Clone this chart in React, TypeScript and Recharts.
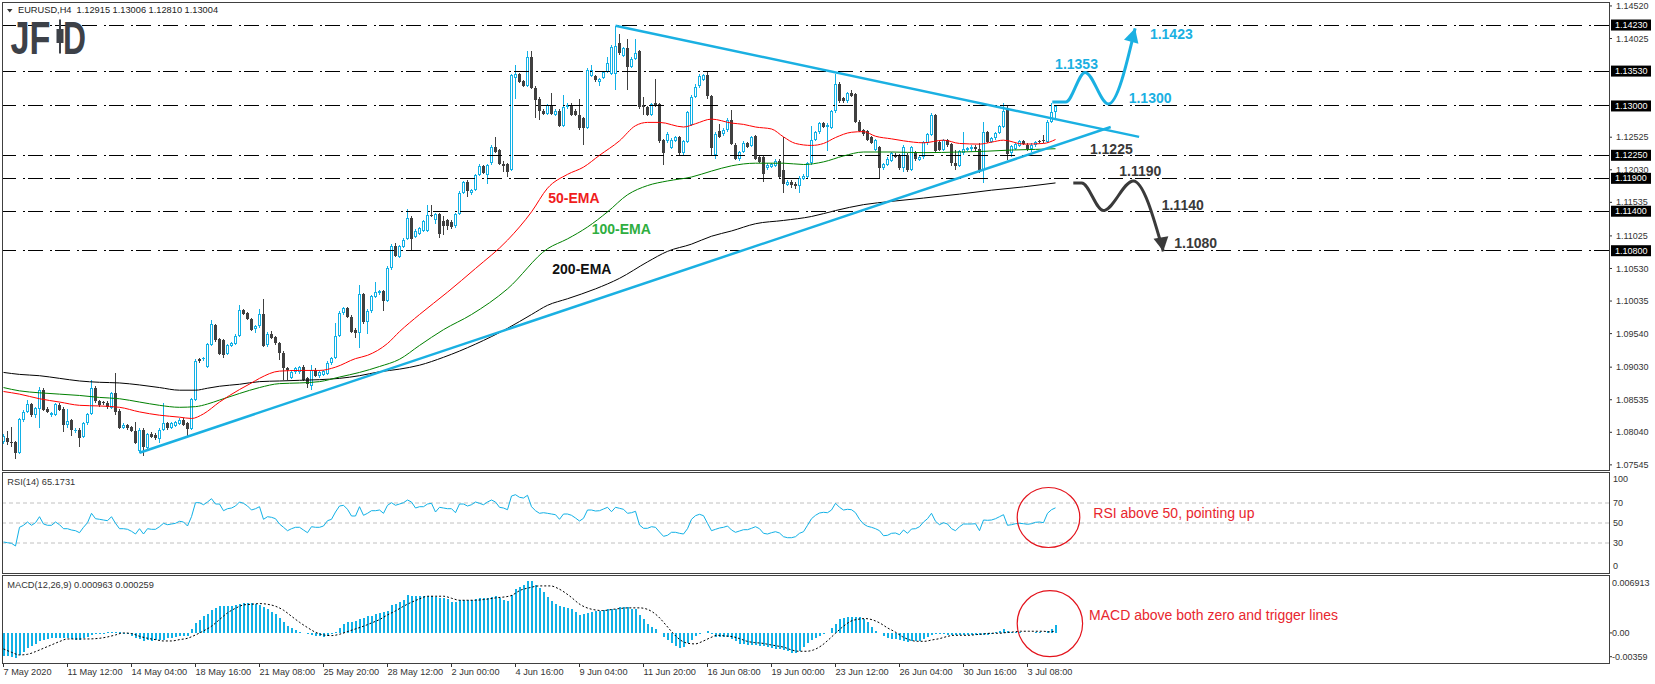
import React from 'react';
import { ComposedChart, Bar, Line, XAxis, YAxis, ReferenceLine, ReferenceDot } from 'recharts';

const FONT = '"Liberation Sans", Arial, Helvetica, sans-serif';
const BULL = '#12b1e6';
const BEAR = '#404040';
const CYAN = '#1ab0e2';
const DARK = '#3a3a3a';
const X_DOMAIN: [number, number] = [-0.375, 401.375];
const CHART_W = 1655;
const AXIS_W = 46;
const PRICE_MIN = 1.07467;
const PRICE_MAX = 1.1458;
const MACD_MIN = -0.00359;
const MACD_MAX = 0.006913;

// EURUSD H4 candles: [open, high, low, close]
const ohlc: [number, number, number, number][] = [
  [1.0789,1.0802,1.0786,1.0798],[1.0796,1.0806,1.0784,1.0789],[1.0790,1.0812,1.0782,1.0788],[1.0789,1.0791,1.0763,1.0773],
  [1.0773,1.0826,1.0771,1.0824],[1.0822,1.0838,1.0820,1.0835],[1.0835,1.0853,1.0833,1.0847],[1.0847,1.0849,1.0828,1.0830],
  [1.0831,1.0843,1.0826,1.0841],[1.0840,1.0873,1.0811,1.0869],[1.0869,1.0871,1.0836,1.0838],[1.0840,1.0842,1.0833,1.0835],
  [1.0830,1.0835,1.0828,1.0833],[1.0831,1.0849,1.0829,1.0847],[1.0845,1.0848,1.0836,1.0838],[1.0840,1.0842,1.0804,1.0815],
  [1.0815,1.0840,1.0810,1.0821],[1.0822,1.0824,1.0799,1.0807],[1.0806,1.0810,1.0803,1.0808],[1.0808,1.0810,1.0781,1.0796],
  [1.0797,1.0820,1.0795,1.0818],[1.0818,1.0834,1.0815,1.0832],[1.0832,1.0883,1.0830,1.0872],[1.0872,1.0874,1.0849,1.0851],
  [1.0851,1.0853,1.0843,1.0845],[1.0850,1.0852,1.0846,1.0848],[1.0849,1.0851,1.0840,1.0842],[1.0841,1.0865,1.0839,1.0863],
  [1.0863,1.0894,1.0830,1.0835],[1.0837,1.0839,1.0809,1.0811],[1.0811,1.0818,1.0809,1.0815],[1.0815,1.0817,1.0808,1.0810],
  [1.0812,1.0814,1.0804,1.0806],[1.0806,1.0819,1.0786,1.0788],[1.0776,1.0810,1.0773,1.0808],[1.0808,1.0810,1.0768,1.0782],
  [1.0780,1.0803,1.0778,1.0801],[1.0802,1.0805,1.0795,1.0797],[1.0800,1.0803,1.0793,1.0795],[1.0794,1.0810,1.0787,1.0808],
  [1.0808,1.0848,1.0806,1.0818],[1.0818,1.0820,1.0808,1.0810],[1.0811,1.0820,1.0809,1.0818],[1.0814,1.0821,1.0812,1.0819],
  [1.0817,1.0825,1.0815,1.0823],[1.0823,1.0826,1.0813,1.0815],[1.0818,1.0820,1.0797,1.0809],[1.0809,1.0856,1.0807,1.0854],
  [1.0853,1.0915,1.0851,1.0912],[1.0915,1.0917,1.0910,1.0912],[1.0915,1.0919,1.0913,1.0917],[1.0903,1.0940,1.0901,1.0938],
  [1.0937,1.0975,1.0935,1.0968],[1.0967,1.0969,1.0942,1.0944],[1.0946,1.0948,1.0921,1.0923],[1.0944,1.0946,1.0917,1.0922],
  [1.0923,1.0938,1.0921,1.0936],[1.0935,1.0942,1.0933,1.0940],[1.0938,1.0953,1.0936,1.0951],[1.0951,1.0998,1.0949,1.0990],
  [1.0990,1.0992,1.0982,1.0984],[1.0985,1.0987,1.0974,1.0976],[1.0976,1.0978,1.0958,1.0960],[1.0961,1.0967,1.0955,1.0965],
  [1.0965,1.0991,1.0963,1.0984],[1.0984,1.1006,1.0933,1.0935],[1.0936,1.0956,1.0934,1.0954],[1.0954,1.0958,1.0946,1.0948],
  [1.0949,1.0951,1.0937,1.0939],[1.0940,1.0942,1.0914,1.0924],[1.0925,1.0927,1.0884,1.0901],[1.0901,1.0903,1.0884,1.0898],
  [1.0887,1.0898,1.0885,1.0896],[1.0895,1.0904,1.0893,1.0902],[1.0895,1.0905,1.0893,1.0903],[1.0903,1.0906,1.0882,1.0884],
  [1.0886,1.0888,1.0871,1.0878],[1.0875,1.0906,1.0868,1.0899],[1.0899,1.0901,1.0888,1.0890],[1.0889,1.0898,1.0887,1.0896],
  [1.0891,1.0899,1.0889,1.0897],[1.0893,1.0912,1.0891,1.0910],[1.0909,1.0919,1.0907,1.0917],[1.0917,1.0970,1.0915,1.0951],
  [1.0951,1.0988,1.0949,1.0986],[1.0985,1.0995,1.0983,1.0993],[1.0993,1.0995,1.0978,1.0980],[1.0980,1.0982,1.0955,1.0957],
  [1.0960,1.0962,1.0948,1.0955],[1.0955,1.1028,1.0932,1.1014],[1.1014,1.1016,1.0969,1.0971],[1.0971,1.0991,1.0954,1.0989],
  [1.0988,1.1013,1.0986,1.1011],[1.1010,1.1033,1.1008,1.1017],[1.1015,1.1021,1.1013,1.1019],[1.1019,1.1021,1.0989,1.1004],
  [1.1004,1.1056,1.1002,1.1054],[1.1053,1.1090,1.1051,1.1087],[1.1087,1.1092,1.1070,1.1072],[1.1071,1.1089,1.1069,1.1087],
  [1.1086,1.1099,1.1084,1.1097],[1.1098,1.1144,1.1096,1.1130],[1.1130,1.1132,1.1080,1.1098],[1.1101,1.1113,1.1099,1.1110],
  [1.1106,1.1116,1.1104,1.1114],[1.1110,1.1127,1.1108,1.1125],[1.1110,1.1149,1.1108,1.1135],[1.1135,1.1150,1.1131,1.1133],
  [1.1126,1.1138,1.1120,1.1136],[1.1136,1.1138,1.1099,1.1106],[1.1125,1.1133,1.1104,1.1117],[1.1126,1.1128,1.1112,1.1117],
  [1.1123,1.1127,1.1113,1.1116],[1.1117,1.1138,1.1115,1.1136],[1.1136,1.1170,1.1134,1.1168],[1.1168,1.1186,1.1166,1.1184],
  [1.1184,1.1187,1.1161,1.1171],[1.1167,1.1174,1.1165,1.1172],[1.1172,1.1197,1.1170,1.1195],[1.1195,1.1212,1.1193,1.1209],
  [1.1209,1.1211,1.1196,1.1198],[1.1195,1.1212,1.1182,1.1210],[1.1213,1.1240,1.1211,1.1238],[1.1238,1.1253,1.1228,1.1230],
  [1.1233,1.1235,1.1210,1.1212],[1.1212,1.1217,1.1200,1.1209],[1.1212,1.1214,1.1192,1.1200],[1.1203,1.1349,1.1201,1.1347],
  [1.1342,1.1362,1.1311,1.1348],[1.1348,1.1350,1.1335,1.1337],[1.1338,1.1340,1.1329,1.1331],[1.1331,1.1383,1.1329,1.1374],
  [1.1374,1.1383,1.1326,1.1328],[1.1328,1.1330,1.1281,1.1309],[1.1311,1.1313,1.1278,1.1293],[1.1293,1.1296,1.1286,1.1288],
  [1.1288,1.1303,1.1286,1.1301],[1.1301,1.1319,1.1286,1.1288],[1.1287,1.1295,1.1285,1.1293],[1.1293,1.1295,1.1268,1.1270],
  [1.1270,1.1317,1.1268,1.1298],[1.1298,1.1304,1.1296,1.1302],[1.1302,1.1304,1.1284,1.1286],[1.1293,1.1295,1.1284,1.1286],
  [1.1287,1.1311,1.1264,1.1266],[1.1281,1.1283,1.1241,1.1267],[1.1267,1.1357,1.1265,1.1355],[1.1346,1.1363,1.1344,1.1354],
  [1.1345,1.1347,1.1337,1.1339],[1.1337,1.1343,1.1331,1.1341],[1.1343,1.1353,1.1341,1.1351],[1.1352,1.1375,1.1350,1.1365],
  [1.1349,1.1393,1.1347,1.1389],[1.1349,1.1422,1.1324,1.1391],[1.1395,1.1410,1.1378,1.1380],[1.1376,1.1390,1.1374,1.1388],
  [1.1388,1.1402,1.1324,1.1359],[1.1359,1.1374,1.1357,1.1372],[1.1372,1.1402,1.1370,1.1381],[1.1383,1.1385,1.1296,1.1298],
  [1.1301,1.1314,1.1286,1.1298],[1.1298,1.1300,1.1285,1.1287],[1.1287,1.1305,1.1285,1.1303],[1.1304,1.1341,1.1299,1.1301],
  [1.1303,1.1305,1.1244,1.1246],[1.1248,1.1250,1.1211,1.1229],[1.1246,1.1260,1.1244,1.1258],[1.1236,1.1251,1.1234,1.1249],
  [1.1247,1.1255,1.1245,1.1253],[1.1253,1.1255,1.1226,1.1228],[1.1228,1.1248,1.1226,1.1246],[1.1245,1.1293,1.1243,1.1291],
  [1.1271,1.1317,1.1269,1.1314],[1.1314,1.1333,1.1312,1.1329],[1.1330,1.1348,1.1328,1.1346],[1.1340,1.1349,1.1338,1.1347],
  [1.1347,1.1352,1.1311,1.1315],[1.1315,1.1317,1.1225,1.1236],[1.1226,1.1260,1.1220,1.1258],[1.1262,1.1273,1.1251,1.1253],
  [1.1257,1.1266,1.1255,1.1264],[1.1263,1.1281,1.1261,1.1279],[1.1279,1.1294,1.1240,1.1242],[1.1241,1.1243,1.1218,1.1220],
  [1.1219,1.1232,1.1217,1.1230],[1.1230,1.1246,1.1228,1.1244],[1.1243,1.1245,1.1236,1.1238],[1.1239,1.1255,1.1237,1.1253],
  [1.1254,1.1256,1.1218,1.1220],[1.1223,1.1225,1.1213,1.1215],[1.1222,1.1224,1.1184,1.1197],[1.1205,1.1213,1.1203,1.1211],
  [1.1207,1.1214,1.1205,1.1212],[1.1209,1.1219,1.1207,1.1217],[1.1217,1.1219,1.1190,1.1192],[1.1202,1.1253,1.1167,1.1181],
  [1.1180,1.1187,1.1178,1.1185],[1.1185,1.1187,1.1176,1.1180],[1.1182,1.1184,1.1174,1.1178],[1.1179,1.1193,1.1167,1.1191],
  [1.1189,1.1196,1.1187,1.1194],[1.1192,1.1215,1.1190,1.1213],[1.1213,1.1269,1.1211,1.1249],[1.1249,1.1262,1.1247,1.1260],
  [1.1260,1.1276,1.1258,1.1274],[1.1274,1.1276,1.1266,1.1268],[1.1268,1.1274,1.1232,1.1271],[1.1267,1.1294,1.1265,1.1292],
  [1.1292,1.1349,1.1290,1.1334],[1.1334,1.1336,1.1305,1.1307],[1.1312,1.1314,1.1305,1.1307],[1.1307,1.1321,1.1305,1.1319],
  [1.1319,1.1324,1.1313,1.1315],[1.1318,1.1320,1.1274,1.1276],[1.1276,1.1278,1.1260,1.1262],[1.1263,1.1265,1.1255,1.1257],
  [1.1262,1.1264,1.1246,1.1248],[1.1253,1.1255,1.1242,1.1244],[1.1233,1.1250,1.1231,1.1248],[1.1237,1.1239,1.1191,1.1205],
  [1.1205,1.1214,1.1203,1.1212],[1.1211,1.1222,1.1209,1.1220],[1.1217,1.1230,1.1215,1.1228],[1.1226,1.1228,1.1221,1.1223],
  [1.1225,1.1227,1.1203,1.1205],[1.1205,1.1240,1.1199,1.1238],[1.1226,1.1228,1.1200,1.1202],[1.1203,1.1239,1.1201,1.1237],
  [1.1230,1.1232,1.1217,1.1219],[1.1218,1.1225,1.1216,1.1223],[1.1222,1.1247,1.1220,1.1245],[1.1243,1.1259,1.1241,1.1257],
  [1.1256,1.1290,1.1254,1.1286],[1.1286,1.1288,1.1229,1.1231],[1.1245,1.1247,1.1231,1.1233],[1.1233,1.1250,1.1231,1.1248],
  [1.1248,1.1250,1.1238,1.1240],[1.1242,1.1244,1.1208,1.1213],[1.1213,1.1233,1.1202,1.1209],[1.1209,1.1233,1.1207,1.1231],
  [1.1228,1.1260,1.1226,1.1234],[1.1233,1.1238,1.1231,1.1236],[1.1234,1.1240,1.1232,1.1238],[1.1238,1.1240,1.1232,1.1234],
  [1.1235,1.1243,1.1198,1.1202],[1.1202,1.1275,1.1183,1.1260],[1.1260,1.1262,1.1243,1.1245],[1.1245,1.1253,1.1243,1.1251],
  [1.1251,1.1261,1.1249,1.1259],[1.1259,1.1271,1.1257,1.1269],[1.1268,1.1304,1.1266,1.1292],[1.1296,1.1300,1.1218,1.1227],
  [1.1228,1.1241,1.1222,1.1239],[1.1235,1.1244,1.1233,1.1242],[1.1239,1.1248,1.1237,1.1246],[1.1246,1.1248,1.1240,1.1242],
  [1.1241,1.1243,1.1231,1.1234],[1.1234,1.1243,1.1230,1.1241],[1.1240,1.1247,1.1238,1.1245],[1.1247,1.1249,1.1243,1.1245],
  [1.1248,1.1256,1.1244,1.1246],[1.1245,1.1279,1.1243,1.1276],[1.1276,1.1304,1.1274,1.1291],[1.12915,1.13006,1.1281,1.13004],
];

// Moving averages: [bar, value]
const ema50: [number, number][] = [
  [0,1.0866],[4,1.0862],[9,1.0855],[14,1.0850],[19,1.0845],[24,1.0844],[29,1.0842],[34,1.0835],[39,1.0830],[44,1.0827],
  [47,1.0825],[50,1.0832],[54,1.0850],[59,1.0869],[62,1.0879],[64,1.0886],[69,1.0897],[74,1.0898],[79,1.0898],[83,1.0903],
  [88,1.0916],[91,1.0921],[96,1.0939],[99,1.0957],[104,1.0983],[111,1.1017],[118,1.1053],[126,1.1096],[132,1.1139],[136,1.1175],
  [141,1.1196],[145,1.1207],[149,1.1225],[154,1.1247],[158,1.1270],[161,1.1275],[164,1.1275],[170,1.1268],[173,1.1273],[177,1.1280],
  [182,1.1274],[185,1.1272],[188,1.1268],[192,1.1265],[195,1.1253],[198,1.1243],[202,1.1240],[205,1.1243],[208,1.1252],[212,1.1260],
  [215,1.1261],[218,1.1254],[222,1.1250],[225,1.1247],[230,1.1244],[235,1.1248],[239,1.1243],[244,1.1242],[247,1.1245],[250,1.1248],
  [255,1.1242],[260,1.1243],[263,1.1249],
];
const ema100: [number, number][] = [
  [0,1.0872],[4,1.0867],[9,1.0864],[14,1.0862],[19,1.0860],[24,1.0857],[29,1.0855],[34,1.0850],[39,1.0845],[44,1.0842],
  [48,1.0843],[51,1.0847],[54,1.0853],[59,1.0863],[64,1.0872],[69,1.0878],[74,1.0879],[79,1.0881],[84,1.0888],[89,1.0895],
  [94,1.0904],[99,1.0915],[104,1.0936],[110,1.0960],[117,1.0983],[126,1.1022],[136,1.1083],[141,1.1098],[146,1.1116],[151,1.1139],
  [156,1.1165],[161,1.1179],[166,1.1186],[172,1.1192],[177,1.1201],[182,1.1209],[188,1.1213],[195,1.1213],[200,1.1211],[205,1.1215],
  [210,1.1224],[215,1.1230],[222,1.1230],[230,1.1229],[239,1.1230],[245,1.1231],[252,1.1233],[258,1.1234],[263,1.1235],
];
const ema200: [number, number][] = [
  [0,1.0895],[4,1.0892],[9,1.0890],[14,1.0886],[19,1.0882],[24,1.0880],[29,1.0879],[34,1.0876],[39,1.0872],[44,1.0868],
  [48,1.0868],[51,1.0871],[54,1.0874],[59,1.0877],[64,1.0881],[69,1.0882],[74,1.0883],[79,1.0884],[84,1.0886],[89,1.0890],
  [94,1.0896],[99,1.0900],[104,1.0906],[110,1.0918],[118,1.0938],[126,1.0962],[132,1.0983],[136,1.0997],[141,1.1007],[148,1.1022],
  [154,1.1038],[161,1.1063],[166,1.1079],[172,1.1090],[177,1.1102],[182,1.1110],[188,1.1121],[195,1.1126],[202,1.1132],[208,1.1141],
  [215,1.1150],[222,1.1155],[230,1.1160],[239,1.1166],[247,1.1172],[255,1.1177],[263,1.1183],
];

const rsiValues: number[] = [
  31,30.3,29.7,27,45.7,47.7,51,47.7,50.3,56.3, 49,47.7,47.7,51,48.3,44.3,44.3,43,42.3,40.3,
  45.7,50.3,59.7,54.3,53.7,53,52.3,56.3,49.7,44.3, 44.3,43.7,41.7,39,44.3,39,44.3,43.7,43.7,46.3,
  49.7,48.3,49,49.7,51.7,51,47,56.3,70.3,70.3, 68.3,71,74.3,69,69,62.3,64.3,65,67,71,
  69.7,67,63,64.3,66.3,53.7,56.3,55.7,54.3,49, 45.7,42.3,44.3,45.7,45.7,43,40.3,46.3,45.7,45.7,
  47,52.3,53.7,61,67,67.7,63.7,57,57,66.3, 57.7,59.7,62.3,62.3,63,59.7,67.7,70.3,67.7,69,
  70.3,73,71,65,66.3,66.3,69,69.7,61,65.7, 65,64.3,64.3,60.3,69,69,67,68.3,71,69.7,
  68.3,71,73,71,65.7,
  65,63.3,77,78.3,75.7,75,77.7,66.3,62.3,59.7, 60.3,59.7,59,58.3,53.7,59,59,57.7,55,52,
  54.7,63,63,62,62.3,64,65.7,61.3,65.7,64.7, 63.7,59.7,60.3,61.7,48,44.7,44.7,46.3,45.7,41,
  36.7,37.7,40.7,40.7,39.7,39,44.3,53.7,57.3,58.7, 57.3,49.7,42.3,43.7,45,45.7,47,43,40.7,42,
  43.3,43.3,44.7,46.3,44.3,39.7,39,40.3,41.3,40, 36.3,35.3,35.3,36.3,39.7,41.3,47.7,54.3,57.7,60,
  60.7,60.3,63,69.7,65.7,63,63.7,63.3,60.3,53.7, 49,46.7,45.7,44.3,42.3,37.3,37.7,39.7,40,38.3,
  43,39.7,44,44.3,46.3,51,54.3,59.7,51.7,48.3, 50.3,49,44.3,42.3,46.3,49,49,49,49.3,42.3,
  53,52.7,53,54.3,56.3,58.3,47.7,48.3,49.3,49.7, 49.3,48.7,49.3,50.7,51,50.3,59.7,63.3,65.17,
];

const macdValues: number[] = [
  -0.00279,-0.00279,-0.00287,-0.00294,-0.00263,-0.00223,-0.00183,-0.00159,-0.00135,-0.00096,
  -0.00088,-0.00072,-0.00064,-0.00064,-0.00056,-0.00064,-0.00064,-0.00072,-0.00088,-0.00088,
  -0.00064,-0.00048,-0.00024,-0.00016,-0.00008,-0.00008,0.00008,0.00016,0.00016,0.00008,
  -0.00008,-0.00016,-0.00032,-0.00064,-0.00072,-0.00096,-0.00088,-0.00096,-0.00088,-0.00088,
  -0.0008,-0.00064,-0.00056,-0.00048,-0.0004,-0.00032,-0.0004,0.00048,0.00119,0.00159,
  0.00199,0.00231,0.00271,0.00294,0.00318,0.00318,0.00318,0.00326,0.00334,0.0035,
  0.00358,0.00358,0.00358,0.0035,0.00334,0.0031,0.00286,0.00255,0.00223,0.00183,
  0.00135,0.00088,0.00056,0.00032,0.00008,0,-0.00008,-0.00024,-0.00032,-0.0004,
  -0.00048,-0.0004,-0.00016,0.00016,0.00064,0.00103,0.00135,0.00135,0.00143,0.00167,
  0.00183,0.00199,0.00207,0.00223,0.00239,0.00247,0.00263,0.00334,0.0035,0.00366,
  0.00398,0.00454,0.00446,0.00438,0.00438,0.00438,0.00446,0.00446,0.0043,0.00422,
  0.00414,0.00406,0.00374,0.00366,0.0039,0.0039,0.0039,0.00398,0.00406,0.00414,
  0.00422,0.00422,0.0043,0.00438,0.00422,
  0.00394,0.00378,0.0045,0.00529,0.00553,0.00577,0.00625,0.00617,0.00577,0.00537,
  0.00489,0.00434,0.00386,0.00346,0.00322,0.00314,0.00299,0.00283,0.00251,0.00219,
  0.00227,0.00235,0.00251,0.00259,0.00267,0.00275,0.00291,0.00283,0.00291,0.00314,
  0.00314,0.00306,0.00291,0.00291,0.00219,0.00163,0.00107,0.00076,0.00052,-0.00004,
  -0.00052,-0.00084,-0.00123,-0.00155,-0.00179,-0.00163,-0.00123,-0.00084,-0.0004,-0.00016,
  -0.00004,0.0002,-0.00012,-0.00044,-0.00044,-0.00044,-0.00052,-0.00068,-0.001,-0.00131,
  -0.00131,-0.00139,-0.00139,-0.00147,-0.00155,-0.00155,-0.00171,-0.00179,-0.00195,-0.00195,
  -0.00203,-0.00219,-0.00235,-0.00235,-0.00211,-0.00171,-0.00123,-0.00084,-0.0006,-0.00036,
  -0.00012,-0.00004,0.0006,0.00107,0.00163,0.00179,0.00187,0.00195,0.00187,0.00187,
  0.00163,0.00131,0.00068,0.00028,-0.00004,-0.00036,-0.0006,-0.00068,-0.00076,-0.00084,
  -0.00092,-0.00107,-0.001,-0.001,-0.00092,-0.00076,-0.00052,-0.00028,-0.00012,-0.00012,
  -0.00012,-0.0002,-0.00028,-0.00028,-0.00028,-0.00028,-0.0002,-0.00028,-0.00028,-0.00028,
  -0.0002,-0.0002,-0.00012,0.00012,0.00028,0.00052,0.0002,0.00012,0.00012,0.00012,
  0.00004,0.00004,-0.00004,0.00012,0.00012,0.00004,0.00028,0.00052,0.00096,
];

const signalLine: [number, number][] = [
  [0,-0.00191],[2,-0.00231],[4,-0.00263],[6,-0.00255],[8,-0.00223],[10,-0.00183],[12,-0.00143],[14,-0.00103],[16,-0.00072],[18,-0.00072],
  [21,-0.00072],[24,-0.00064],[26,-0.00048],[28,-0.00024],[30,0],[32,-0.00008],[34,-0.0004],[36,-0.00064],[38,-0.0008],[40,-0.00096],
  [42,-0.00096],[44,-0.0008],[46,-0.00064],[48,-0.00024],[50,0.00024],[52,0.0008],[54,0.00159],[56,0.00239],[58,0.00294],[60,0.00334],
  [62,0.00342],[64,0.0035],[66,0.00342],[68,0.00318],[70,0.00271],[72,0.00199],[74,0.00127],[76,0.00064],[78,0.00008],[80,-0.00024],
  [82,-0.00032],[84,-0.00016],[86,0.00016],[88,0.00048],[90,0.0008],[92,0.00119],[94,0.00159],[96,0.00215],[98,0.00263],[100,0.00318],
  [102,0.00366],[104,0.00406],[106,0.00438],[108,0.00438],[110,0.00438],[112,0.00414],[114,0.0039],[116,0.0039],[118,0.0039],[120,0.00398],
  [123,0.00418],[126.7,0.00442],[129.4,0.00513],[131.3,0.00537],[134,0.00561],[136.8,0.00561],[138.7,0.00529],[141.5,0.00442],[144.2,0.00338],[147,0.00283],
  [149.8,0.00267],[152.6,0.00283],[156.3,0.00299],[159,0.00299],[160.9,0.00283],[163.7,0.00195],[165.5,0.001],[167.4,-0.00004],[169.2,-0.00084],[171,-0.00123],
  [172.9,-0.00131],[174.8,-0.001],[176.6,-0.0006],[178.5,-0.00028],[180.3,-0.00036],[182.2,-0.00044],[184,-0.00068],[185.9,-0.001],[187.7,-0.00115],[189.6,-0.00123],
  [191.4,-0.00139],[193.3,-0.00155],[195.1,-0.00171],[197,-0.00203],[198.8,-0.00219],[200.7,-0.00219],[202.5,-0.00203],[204.4,-0.00155],[206.2,-0.00084],[208,-0.00004],
  [209.9,0.00076],[211.8,0.00139],[213.6,0.00163],[215.5,0.00171],[217.3,0.00155],[219.2,0.00115],[221,0.0006],[222.9,0.00012],[224.7,-0.00044],[226.6,-0.00084],
  [228.4,-0.001],[230.3,-0.001],[232.1,-0.00084],[234,-0.00068],[235.8,-0.00044],[237.7,-0.00028],[239.5,-0.00028],[241.4,-0.00028],[243.2,-0.0002],[245.1,-0.00012],
  [246.9,-0.00004],[248.8,-0.00004],[250.6,0.00004],[252.5,0.00012],[254.3,0.0002],[256.2,0.0002],[258,0.0002],[259.9,0.0002],[261.7,0.00012],[263,0.00026],
];

// Horizontal support / resistance levels
const levelValues = [1.1423, 1.1353, 1.13, 1.1225, 1.119, 1.114, 1.108];
const priceTickValues = [1.1452, 1.14025, 1.12525, 1.1203, 1.11535, 1.11025, 1.1053, 1.10035, 1.0954, 1.0903, 1.08535, 1.0804, 1.07545];
const rsiTickValues = [100, 70, 50, 30, 0];
const rsiGuides = [70, 50, 30];
const macdTickValues = [MACD_MAX, 0, MACD_MIN];

const timeTickBars = [0, 16, 32, 48, 64, 80, 96, 112, 128, 144, 160, 176, 192, 208, 224, 240, 256];
const timeLabels = ['7 May 2020', '11 May 12:00', '14 May 04:00', '18 May 16:00', '21 May 08:00', '25 May 20:00', '28 May 12:00', '2 Jun 00:00', '4 Jun 16:00', '9 Jun 04:00', '11 Jun 20:00', '16 Jun 08:00', '19 Jun 00:00', '23 Jun 12:00', '26 Jun 04:00', '30 Jun 16:00', '3 Jul 08:00'];

// Trend lines and scenario paths: [bar, price]
const upperTrend: [number, number][] = [[153, 1.1422], [283.9, 1.1253]];
const lowerTrend: [number, number][] = [[34, 1.0773], [276.8, 1.1268]];
const bullPath: [number, number][] = [[262.2, 1.1306], [265.55, 1.1306], [270.4, 1.1351], [276.2, 1.1303], [282.9, 1.1418]];
const bearPath: [number, number][] = [[267.45, 1.1183], [269.55, 1.1183], [274.95, 1.1141], [282.45, 1.1186], [289.95, 1.1079]];

const priceNotes = [
  { i: 136.2, p: 1.11605, text: '50-EMA', color: '#f01c1c' },
  { i: 147.05, p: 1.11134, text: '100-EMA', color: '#2fae3f' },
  { i: 137.2, p: 1.10522, text: '200-EMA', color: '#111111' },
  { i: 286.6, p: 1.14093, text: '1.1423', color: CYAN },
  { i: 262.9, p: 1.13637, text: '1.1353', color: CYAN },
  { i: 281.3, p: 1.13125, text: '1.1300', color: CYAN },
  { i: 271.6, p: 1.12346, text: '1.1225', color: DARK },
  { i: 278.95, p: 1.12011, text: '1.1190', color: DARK },
  { i: 289.55, p: 1.11499, text: '1.1140', color: DARK },
  { i: 292.7, p: 1.10922, text: '1.1080', color: DARK },
];

const candleData = ohlc.map(([o, h, l, c], i) => ({ i, o, h, l, c, range: [l, h] }));
const rsiData = rsiValues.map((v, i) => ({ i, v }));
const macdData = macdValues.map((m, i) => ({ i, m }));
const toPts = (arr: [number, number][]) => arr.map(([i, v]) => ({ i, v }));

function Candle(props: any) {
  const { x, y, width, height, payload } = props;
  if (!payload || x == null || y == null) return <g />;
  const top = Math.min(y, y + height);
  const bot = Math.max(y, y + height);
  const span = payload.h - payload.l;
  const py = (v: number) => (span > 0 ? top + ((payload.h - v) / span) * (bot - top) : top);
  const cx = Math.floor(x + width / 2) + 0.5;
  const bull = payload.c >= payload.o;
  const col = bull ? BULL : BEAR;
  const bTop = py(Math.max(payload.o, payload.c));
  const bBot = py(Math.min(payload.o, payload.c));
  const bh = Math.max(bBot - bTop, 1);
  return (
    <g shapeRendering="crispEdges">
      <rect x={cx - 0.5} y={top} width={1} height={Math.max(bot - top, 1)} fill={col} />
      <rect x={cx - 1.5} y={bTop} width={3} height={bh} fill={col} />
      {bull && bh > 2.5 ? <rect x={cx - 0.5} y={bTop + 1} width={1} height={bh - 2} fill="#ffffff" /> : null}
    </g>
  );
}

function MacdBar(props: any) {
  const { x, y, width, height } = props;
  if (x == null || y == null) return <g />;
  const top = Math.min(y, y + height);
  const h = Math.abs(height);
  if (h < 0.5) return <g />;
  const cx = Math.floor(x + width / 2) + 0.5;
  return <rect x={cx - 0.5} y={top} width={2} height={h} fill={BULL} shapeRendering="crispEdges" />;
}

function PriceTick(props: any) {
  const { x, y, payload } = props;
  const v: number = payload.value;
  const isLevel = levelValues.some((l) => Math.abs(l - v) < 1e-7);
  const label = v.toFixed(5);
  if (isLevel) {
    return (
      <g>
        <rect x={x + 2} y={y - 5.5} width={40} height={11} fill="#000000" />
        <text x={x + 6} y={y} dy="0.35em" fill="#ffffff" fontSize={9} fontFamily={FONT}>{label}</text>
      </g>
    );
  }
  return (
    <g>
      <line x1={x} x2={x + 3} y1={y} y2={y} stroke="#333" />
      <text x={x + 7} y={y} dy="0.35em" fill="#333" fontSize={9} fontFamily={FONT}>{label}</text>
    </g>
  );
}

function RsiTick(props: any) {
  const { x, y, payload } = props;
  const v: number = payload.value;
  const shift = v === 100 ? 6.3 : v === 0 ? -7 : 0;
  return (
    <text x={x + 4} y={y + shift} dy="0.35em" fill="#333" fontSize={9} fontFamily={FONT}>{String(v)}</text>
  );
}

function MacdTick(props: any) {
  const { x, y, payload } = props;
  const v: number = payload.value;
  const isTop = v === MACD_MAX;
  const isBottom = v === MACD_MIN;
  const label = isTop ? '0.006913' : isBottom ? '-0.00359' : '0.00';
  const shift = isTop ? 7.7 : isBottom ? -6.3 : 0;
  return (
    <g>
      {!isTop ? <line x1={x} x2={x + 3} y1={y + shift} y2={y + shift} stroke="#333" /> : null}
      <text x={x + 3} y={y + shift} dy="0.35em" fill="#333" fontSize={9} fontFamily={FONT}>{label}</text>
    </g>
  );
}

function TimeTick(props: any) {
  const { x, y, payload } = props;
  const idx = timeTickBars.indexOf(payload.value);
  const label = idx >= 0 ? timeLabels[idx] : '';
  return (
    <g>
      <line x1={x} x2={x} y1={y} y2={y + 4} stroke="#333" />
      <text x={x} y={y + 9} dy="0.35em" fill="#333" fontSize={9.2} fontFamily={FONT}>{label}</text>
    </g>
  );
}

const textShape = (text: string, color: string, size: number, bold: boolean) => (p: any) => (
  <text x={p.cx} y={p.cy} dy="0.35em" fill={color} fontSize={size} fontWeight={bold ? 'bold' : 'normal'} fontFamily={FONT}>{text}</text>
);

const ellipseShape = (rx: number, ry: number) => (p: any) => (
  <ellipse cx={p.cx} cy={p.cy} rx={rx} ry={ry} fill="none" stroke="#e3131c" strokeWidth={1.2} />
);

const arrowDot = (n: number, ux: number, uy: number, color: string) => (p: any) => {
  if (p.index !== n - 1) return <g key={`d${p.index}`} />;
  const len = 14;
  const hw = 7.5;
  const bx = p.cx - ux * len;
  const by = p.cy - uy * len;
  const nx = -uy;
  const ny = ux;
  return (
    <polygon
      key="arrow"
      points={`${p.cx},${p.cy} ${bx + nx * hw},${by + ny * hw} ${bx - nx * hw},${by - ny * hw}`}
      fill={color}
    />
  );
};

export default function App() {
  return (
    <div style={{ position: 'absolute', left: 0, top: 0, width: 1655, height: 684, background: '#ffffff', overflow: 'hidden', fontFamily: FONT }}>
      {/* Price panel */}
      <div style={{ position: 'absolute', left: 0, top: 0 }}>
        <ComposedChart width={CHART_W} height={470} data={candleData} margin={{ top: 2, right: 0, bottom: 0, left: 2 }}>
          <XAxis type="number" dataKey="i" domain={X_DOMAIN} hide allowDataOverflow />
          <YAxis
            orientation="right"
            width={AXIS_W}
            type="number"
            domain={[PRICE_MIN, PRICE_MAX]}
            allowDataOverflow
            ticks={[...priceTickValues, ...levelValues]}
            interval={0}
            tick={(p: any) => <PriceTick {...p} />}
            tickSize={0}
            tickMargin={0}
            axisLine={false}
            tickLine={false}
          />
          {levelValues.map((v) => (
            <ReferenceLine key={`lv${v}`} y={v} stroke="#000000" strokeWidth={1} strokeDasharray="15 3 2 7" shapeRendering="crispEdges" />
          ))}
          <Line data={toPts(ema200)} dataKey="v" type="monotone" stroke="#000000" strokeWidth={1} dot={false} activeDot={false} isAnimationActive={false} />
          <Line data={toPts(ema100)} dataKey="v" type="monotone" stroke="#008000" strokeWidth={1} dot={false} activeDot={false} isAnimationActive={false} />
          <Line data={toPts(ema50)} dataKey="v" type="monotone" stroke="#ff0000" strokeWidth={1} dot={false} activeDot={false} isAnimationActive={false} />
          <Bar dataKey="range" barSize={4} shape={(p: any) => <Candle {...p} />} isAnimationActive={false} />
          <Line data={toPts(upperTrend)} dataKey="v" type="linear" stroke={CYAN} strokeWidth={2.5} dot={false} activeDot={false} isAnimationActive={false} />
          <Line data={toPts(lowerTrend)} dataKey="v" type="linear" stroke={CYAN} strokeWidth={2.5} dot={false} activeDot={false} isAnimationActive={false} />
          <Line data={toPts(bullPath)} dataKey="v" type="monotone" stroke={CYAN} strokeWidth={3} dot={arrowDot(bullPath.length, 0.28, -0.96, CYAN)} activeDot={false} isAnimationActive={false} />
          <Line data={toPts(bearPath)} dataKey="v" type="monotone" stroke={DARK} strokeWidth={3} dot={arrowDot(bearPath.length, 0.17, 0.985, DARK)} activeDot={false} isAnimationActive={false} />
          {priceNotes.map((n) => (
            <ReferenceDot key={`pn${n.text}`} x={n.i} y={n.p} r={0} ifOverflow="visible" shape={textShape(n.text, n.color, 14, true)} />
          ))}
        </ComposedChart>
      </div>

      {/* RSI panel */}
      <div style={{ position: 'absolute', left: 0, top: 473 }}>
        <ComposedChart width={CHART_W} height={100} data={rsiData} margin={{ top: 0, right: 0, bottom: 0, left: 2 }}>
          <XAxis type="number" dataKey="i" domain={X_DOMAIN} hide allowDataOverflow />
          <YAxis
            orientation="right"
            width={AXIS_W}
            type="number"
            domain={[0, 100]}
            ticks={rsiTickValues}
            interval={0}
            tick={(p: any) => <RsiTick {...p} />}
            tickSize={0}
            tickMargin={0}
            axisLine={false}
            tickLine={false}
          />
          {rsiGuides.map((v) => (
            <ReferenceLine key={`rg${v}`} y={v} stroke="#c0c0c0" strokeDasharray="4 3" />
          ))}
          <Line dataKey="v" type="linear" stroke={BULL} strokeWidth={1} dot={false} activeDot={false} isAnimationActive={false} />
          <ReferenceDot x={261.25} y={55.5} r={0} ifOverflow="visible" shape={ellipseShape(31.3, 30)} />
          <ReferenceDot x={272.45} y={59.7} r={0} ifOverflow="visible" shape={textShape('RSI above 50, pointing up', '#e8262e', 14, false)} />
        </ComposedChart>
      </div>

      {/* MACD panel */}
      <div style={{ position: 'absolute', left: 0, top: 575 }}>
        <ComposedChart width={CHART_W} height={109} data={macdData} margin={{ top: 0, right: 0, bottom: 0, left: 2 }}>
          <XAxis
            type="number"
            dataKey="i"
            domain={X_DOMAIN}
            allowDataOverflow
            height={21}
            ticks={timeTickBars}
            interval={0}
            tick={(p: any) => <TimeTick {...p} />}
            tickSize={0}
            tickMargin={0}
            axisLine={false}
            tickLine={false}
          />
          <YAxis
            orientation="right"
            width={AXIS_W}
            type="number"
            domain={[MACD_MIN, MACD_MAX]}
            allowDataOverflow
            ticks={macdTickValues}
            interval={0}
            tick={(p: any) => <MacdTick {...p} />}
            tickSize={0}
            tickMargin={0}
            axisLine={false}
            tickLine={false}
          />
          <Bar dataKey="m" barSize={4} shape={(p: any) => <MacdBar {...p} />} isAnimationActive={false} />
          <Line data={toPts(signalLine)} dataKey="v" type="monotone" stroke="#000000" strokeWidth={1} strokeDasharray="2 2" dot={false} activeDot={false} isAnimationActive={false} />
          <ReferenceDot x={261.6} y={0.00111} r={0} ifOverflow="visible" shape={ellipseShape(32.7, 33)} />
          <ReferenceDot x={271.4} y={0.0021} r={0} ifOverflow="visible" shape={textShape('MACD above both zero and trigger lines', '#e8262e', 14, false)} />
        </ComposedChart>
      </div>

      {/* Panel frames */}
      <div style={{ position: 'absolute', left: 2, top: 2, width: 1608, height: 469, border: '1px solid #404040', boxSizing: 'border-box', pointerEvents: 'none' }} />
      <div style={{ position: 'absolute', left: 2, top: 472, width: 1608, height: 102, border: '1px solid #404040', boxSizing: 'border-box', pointerEvents: 'none' }} />
      <div style={{ position: 'absolute', left: 2, top: 575, width: 1608, height: 89, border: '1px solid #404040', boxSizing: 'border-box', pointerEvents: 'none' }} />

      {/* Titles and logo */}
      <svg width={1655} height={684} style={{ position: 'absolute', left: 0, top: 0, pointerEvents: 'none' }}>
        <polygon points="7,9 12.5,9 9.75,12.5" fill="#333" />
        <text x={18} y={10.2} dy="0.35em" fontSize={9.25} fill="#222" fontFamily={FONT} style={{ whiteSpace: 'pre' }}>
          {'EURUSD,H4  1.12915 1.13006 1.12810 1.13004'}
        </text>
        <g fill="#3d4148" fontFamily={FONT} fontWeight="bold">
          <text x={10.5} y={53.5} fontSize={46} textLength={40} lengthAdjust="spacingAndGlyphs">JF</text>
          <text x={63} y={53.5} fontSize={46} textLength={23} lengthAdjust="spacingAndGlyphs">D</text>
        </g>
        <rect x={59} y={19.5} width={2} height={34} fill="#3d4148" />
        <rect x={56.5} y={29} width={7} height={14} fill="#3d4148" />
      </svg>
      <svg width={1655} height={684} style={{ position: 'absolute', left: 0, top: 0, pointerEvents: 'none' }}>
        <text x={7.3} y={481.7} dy="0.35em" fontSize={9.25} fill="#333" fontFamily={FONT}>RSI(14) 65.1731</text>
        <text x={7.3} y={584.3} dy="0.35em" fontSize={9.25} fill="#333" fontFamily={FONT}>MACD(12,26,9) 0.000963 0.000259</text>
      </svg>
    </div>
  );
}
